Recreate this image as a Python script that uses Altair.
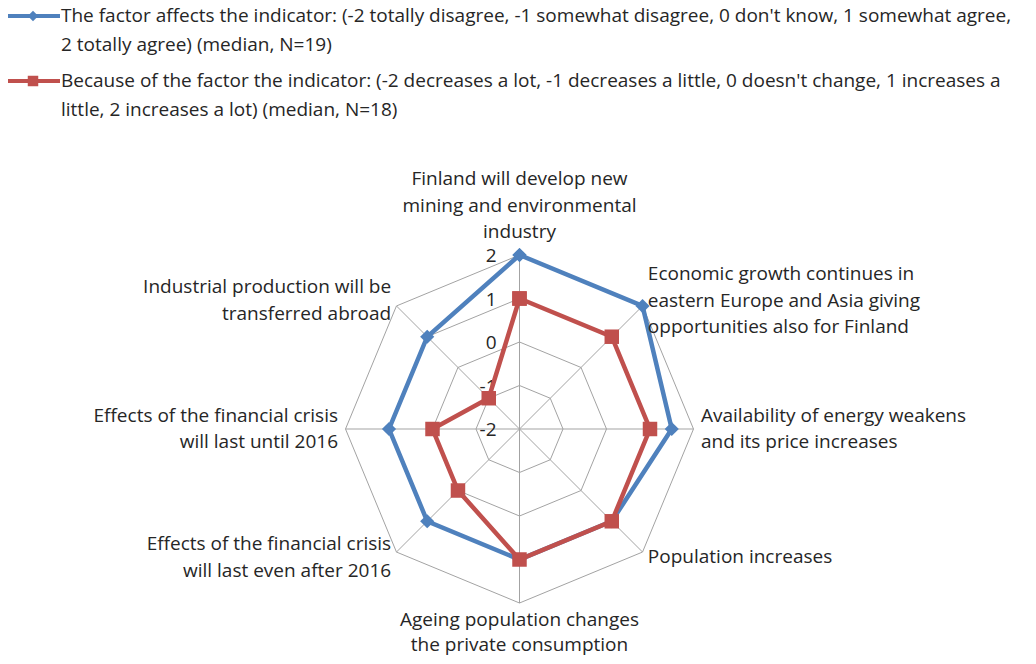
import altair as alt
import pandas as pd

# ---------------- data ----------------
categories = [
    "Finland will develop new\nmining and environmental\nindustry",
    "Economic growth continues in\neastern Europe and Asia giving\nopportunities also for Finland",
    "Availability of energy weakens\nand its price increases",
    "Population increases",
    "Ageing population changes\nthe private consumption",
    "Effects of the financial crisis\nwill last even after 2016",
    "Effects of the financial crisis\nwill last until 2016",
    "Industrial production will be\ntransferred abroad",
]
affects_values = [2, 2, 1.5, 1, 1, 1, 1, 1]
change_values = [1, 1, 1, 1, 1, 0, 0, -1]
tick_values = [-2, -1, 0, 1, 2]
series_names = [
    "The factor affects the indicator: (-2 totally disagree, -1 somewhat disagree, 0 don't know, 1 somewhat agree,\n2 totally agree) (median, N=19)",
    "Because of the factor the indicator: (-2 decreases a lot, -1 decreases a little, 0 doesn't change, 1 increases a\nlittle, 2 increases a lot) (median, N=18)",
]
colors = ["#4F81BD", "#C0504D"]

# ---------------- tables ----------------
n = len(categories)
rows = []
for s, vals in zip(series_names, [affects_values, change_values]):
    for i in range(n + 1):
        rows.append({"series": s, "idx": i % n, "ord": i, "value": vals[i % n]})
series_df = pd.DataFrame(rows)

ring_rows = []
for t in tick_values[1:]:
    for i in range(n + 1):
        ring_rows.append({"level": t, "idx": i % n, "ord": i})
ring_df = pd.DataFrame(ring_rows)
spoke_df = pd.DataFrame({"idx": list(range(n))})
tick_df = pd.DataFrame({"tick": tick_values, "label": [str(t) for t in tick_values]})
label_df = pd.DataFrame({"idx": list(range(n)), "label": categories})

# ---------------- geometry ----------------
PAD_TOP = 8
W, H = 1020, 640
U = 43.5          # pixels per unit
CX, CY = 511.5, 429.0 - 8 - PAD_TOP
xdom = [-CX / U, (W - CX) / U]
ydom = [-(H - CY) / U, CY / U]
xs = alt.Scale(domain=xdom, nice=False, zero=False)
ys = alt.Scale(domain=ydom, nice=False, zero=False)
X = lambda f: alt.X(f, type="quantitative", scale=xs, axis=None)
Y = lambda f: alt.Y(f, type="quantitative", scale=ys, axis=None)
X2 = lambda f: alt.X2(f)
Y2 = lambda f: alt.Y2(f)

FONT = "Open Sans"
FS = 19
TXT = "#262626"
GRID = "#a3a3a3"
LH = 26.5

ANG = "datum.idx * PI / 4"

rings = alt.Chart(ring_df).mark_line(color=GRID, strokeWidth=1).transform_calculate(
    x=f"(datum.level + 2) * sin({ANG})", y=f"(datum.level + 2) * cos({ANG})"
).encode(x=X("x"), y=Y("y"), detail="level:N", order="ord:Q")

spokes = alt.Chart(spoke_df).mark_rule(color=GRID, strokeWidth=1).transform_calculate(
    x0="0", y0="0", x=f"4 * sin({ANG})", y=f"4 * cos({ANG})"
).encode(x=X("x0"), y=Y("y0"), x2=X2("x"), y2=Y2("y"))

ticks = alt.Chart(tick_df).mark_text(
    align="right", baseline="middle", dx=-23, dy=1, font=FONT, fontSize=FS, color=TXT
).transform_calculate(x="0", y="datum.tick + 2").encode(x=X("x"), y=Y("y"), text="label:N")

def series_layers(k, shape, size):
    base = alt.Chart(series_df).transform_filter(
        alt.datum.series == series_names[k]
    ).transform_calculate(
        x=f"(datum.value + 2) * sin({ANG})", y=f"(datum.value + 2) * cos({ANG})"
    )
    line = base.mark_line(strokeWidth=4.5, color=colors[k]).encode(
        x=X("x"), y=Y("y"), order="ord:Q"
    )
    pts = base.mark_point(shape=shape, size=size, filled=True, opacity=1, color=colors[k]).encode(
        x=X("x"), y=Y("y")
    )
    return line, pts

b_line, b_pts = series_layers(0, "diamond", 200)
r_line, r_pts = series_layers(1, "square", 210)

# label anchor: first line centre, computed from the angle and the number of lines
lab_base = alt.Chart(label_df).transform_calculate(
    s=f"sin({ANG})", c=f"cos({ANG})",
    nl="length(split(datum.label, '\\n'))"
).transform_calculate(
    side="abs(datum.s) < 0.1 ? (datum.c > 0 ? 'top' : 'bottom') : (datum.s > 0 ? 'right' : 'left')"
).transform_calculate(
    x=f"datum.side == 'top' || datum.side == 'bottom' ? 0 : (4 + 7.5 / {U}) * datum.s",
    y=(
        f"datum.side == 'top' ? 4 + (23 + (datum.nl - 1) * {LH}) / {U} : "
        f"datum.side == 'bottom' ? -4 - 17 / {U} : "
        f"(4 + 7.5 / {U}) * datum.c + (datum.nl - 1) * {LH} / 2 / {U}"
    ),
)

def lab(side, align, lh=LH):
    return lab_base.transform_filter(alt.datum.side == side).mark_text(
        align=align, baseline="middle", lineBreak="\n", lineHeight=lh,
        font=FONT, fontSize=FS, color=TXT
    ).encode(x=X("x"), y=Y("y"), text="label:N")

lab_top = lab("top", "center")
lab_bot = lab("bottom", "center", 25)
lab_right = lab("right", "left")
lab_left = lab("left", "right")

# ---------------- legend ----------------
def legend_item(k, y, shape, size):
    d = pd.DataFrame({"series": [series_names[k]]})
    c = alt.Chart(d)
    rule = c.mark_rule(color=colors[k], strokeWidth=4).encode(
        x=alt.value(0), x2=alt.value(52), y=alt.value(y)
    )
    pt = c.mark_point(shape=shape, size=size, filled=True, opacity=1, color=colors[k]).encode(
        x=alt.value(25), y=alt.value(y)
    )
    txt = c.mark_text(
        align="left", baseline="middle", lineBreak="\n", lineHeight=29,
        font=FONT, fontSize=FS, color=TXT
    ).encode(x=alt.value(53), y=alt.value(y), text="series:N")
    return [rule, pt, txt]

legend_layers = legend_item(0, 16 - 8 - PAD_TOP, "diamond", 110) + legend_item(1, 81 - 8 - PAD_TOP, "square", 110)

chart = alt.layer(
    rings, spokes, ticks, b_line, r_line, b_pts, r_pts,
    lab_top, lab_bot, lab_right, lab_left, *legend_layers
).properties(
    width=W, height=H, autosize="none",
    padding={"top": PAD_TOP, "left": 0, "right": 0, "bottom": 0}
).configure_view(stroke=None)

chart.save("out.html", embed_options={"renderer": "svg", "actions": False})
